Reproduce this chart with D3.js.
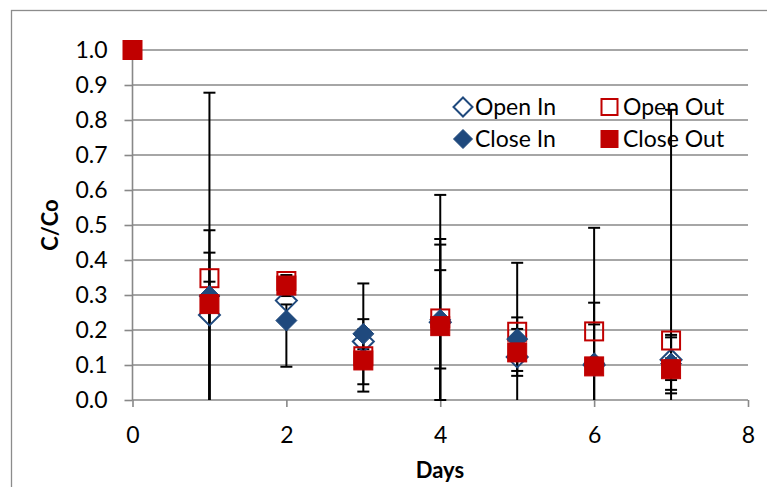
<!DOCTYPE html>
<html>
<head>
<meta charset="utf-8">
<script src="https://cdn.jsdelivr.net/npm/d3@7"></script>
<style>
  html, body { margin: 0; padding: 0; background: #fff; }
  svg { display: block; font-family: Lato, "Open Sans", sans-serif; }
</style>
</head>
<body>
<svg id="chart" width="767" height="487"></svg>
<script>
// ---- data ----
const days = [0, 1, 2, 3, 4, 5, 6, 7];
const seriesNames = ["Open In", "Open Out", "Close In", "Close Out"];

const openIn   = [null, 0.243, 0.284, 0.167, 0.222, 0.123, 0.100, 0.115];
const openOut  = [null, 0.348, 0.340, 0.125, 0.233, 0.195, 0.196, 0.170];
const closeIn  = [null, 0.297, 0.227, 0.189, 0.229, 0.174, 0.105, 0.104];
const closeOut = [1.0,  0.274, 0.327, 0.113, 0.211, 0.136, 0.096, 0.088];

const openInErrPlus   = [0, 0.242, 0,     0.064, 0.222, 0.040, 0.116, 0.071];
const openInErrMinus  = [0, 0.300, 0,     0.064, 0.222, 0.040, 0.116, 0.096];
const openOutErrPlus  = [0, 0.530, 0,     0.020, 0.353, 0.197, 0.296, 0.659];
const openOutErrMinus = [0, 0.530, 0,     0.020, 0.353, 0.197, 0.296, 0.659];
const closeInErrPlus  = [0, 0.124, 0.046, 0.144, 0.231, 0.062, 0.173, 0.075];
const closeInErrMinus = [0, 0.350, 0.132, 0.144, 0.231, 0.062, 0.173, 0.075];
const closeOutErrPlus = [0, 0.064, 0.030, 0.089, 0.160, 0.067, 0.020, 0.031];
const closeOutErrMinus= [0, 0.300, 0.030, 0.089, 0.121, 0.067, 0.020, 0.031];

const xTicks = [0, 2, 4, 6, 8];
const yTicks = [0, 0.1, 0.2, 0.3, 0.4, 0.5, 0.6, 0.7, 0.8, 0.9, 1.0];

// ---- setup ----
const BLUE = "#1F497D", RED = "#C00000", GRID = "#888888";
const svg = d3.select("#chart");
const x = d3.scaleLinear().domain([0, 8]).range([132.5, 748]);
const y = d3.scaleLinear().domain([0, 1]).range([400, 50]);

// outer chart border
svg.append("rect").attr("x", 11.5).attr("y", 10.5).attr("width", 800).attr("height", 600)
  .attr("fill", "none").attr("stroke", "#8c8c8c").attr("stroke-width", 1.3);

// gridlines
svg.append("g").selectAll("line").data(yTicks.filter(d => d > 0)).join("line")
  .attr("x1", x(0)).attr("x2", x(8))
  .attr("y1", d => y(d)).attr("y2", d => y(d))
  .attr("stroke", GRID).attr("stroke-width", 1.6);

// axes
const yAxis = svg.append("g").attr("transform", `translate(${x(0)},0)`)
  .call(d3.axisLeft(y).tickValues(yTicks).tickFormat(d3.format(".1f")).tickSize(8).tickPadding(17));
const xAxis = svg.append("g").attr("transform", `translate(0,${y(0)})`)
  .call(d3.axisBottom(x).tickValues(xTicks).tickFormat(d3.format("d")).tickSize(7).tickPadding(20));
[yAxis, xAxis].forEach(g => {
  g.select(".domain").attr("stroke", GRID).attr("stroke-width", 1.6);
  g.selectAll(".tick line").attr("stroke", GRID).attr("stroke-width", 1.6);
  g.selectAll(".tick text").attr("fill", "#000").style("font-size", "23px").style("font-family", "Lato, 'Open Sans', sans-serif");
});
yAxis.select(".domain").attr("d", `M0,${y(0)}V${y(1)}`);
xAxis.select(".domain").attr("d", `M${x(0)},0H${x(8)}`);

// axis titles
svg.append("text").attr("x", 440).attr("y", 478).attr("text-anchor", "middle")
  .style("font-size", "22px").style("font-weight", "bold").text("Days");
svg.append("text").attr("transform", "translate(58,225) rotate(-90)").attr("text-anchor", "middle")
  .style("font-size", "22px").style("font-weight", "bold").text("C/Co");

// series
const series = [
  { name: seriesNames[0], vals: openIn,   plus: openInErrPlus,   minus: openInErrMinus,   shape: "diamond", filled: false, color: BLUE },
  { name: seriesNames[1], vals: openOut,  plus: openOutErrPlus,  minus: openOutErrMinus,  shape: "square",  filled: false, color: RED },
  { name: seriesNames[2], vals: closeIn,  plus: closeInErrPlus,  minus: closeInErrMinus,  shape: "diamond", filled: true,  color: BLUE },
  { name: seriesNames[3], vals: closeOut, plus: closeOutErrPlus, minus: closeOutErrMinus, shape: "square",  filled: true,  color: RED }
];

// error bars (clipped to the plot range, caps only if inside)
const errG = svg.append("g");
series.forEach(s => {
  days.forEach((d, i) => {
    if (s.vals[i] == null) return;
    const p = s.plus[i], m = s.minus[i];
    if (!p && !m) return;
    const hiV = s.vals[i] + p, loV = s.vals[i] - m;
    const hi = Math.min(1, hiV), lo = Math.max(0, loV);
    const cx = x(d);
    errG.append("line").attr("x1", cx).attr("x2", cx).attr("y1", y(lo)).attr("y2", y(hi))
      .attr("stroke", "#000").attr("stroke-width", 2);
    [[hiV, hiV <= 1], [loV, loV >= 0]].forEach(([v, ok]) => {
      if (!ok) return;
      errG.append("line").attr("x1", cx - 6).attr("x2", cx + 6).attr("y1", y(v)).attr("y2", y(v))
        .attr("stroke", "#000").attr("stroke-width", 2);
    });
  });
});

function drawMarker(g, shape, filled, color, cx, cy, size) {
  const h = size / 2;
  if (shape === "diamond") {
    const pts = `${cx},${cy - h} ${cx + h},${cy} ${cx},${cy + h} ${cx - h},${cy}`;
    g.append("polygon").attr("points", pts)
      .attr("fill", filled ? color : "none").attr("stroke", color).attr("stroke-width", filled ? 1 : 2);
  } else {
    const hs = h - (filled ? 0.5 : 1);
    g.append("rect").attr("x", cx - hs).attr("y", cy - hs).attr("width", 2 * hs).attr("height", 2 * hs)
      .attr("fill", filled ? color : "none").attr("stroke", color).attr("stroke-width", filled ? 1 : 2);
  }
}

// markers
const mG = svg.append("g");
series.forEach(s => {
  days.forEach((d, i) => {
    if (s.vals[i] == null) return;
    drawMarker(mG, s.shape, s.filled, s.color, x(d), y(s.vals[i]), s.shape === "diamond" ? 21 : 20);
  });
});

// legend
const lg = svg.append("g");
const legendPos = [
  { lx: 463, ly: 107, tx: 475 },
  { lx: 609.5, ly: 107, tx: 623 },
  { lx: 463, ly: 139, tx: 475 },
  { lx: 609.5, ly: 139, tx: 623 }
];
series.forEach((s, i) => {
  const p = legendPos[i];
  drawMarker(lg, s.shape, s.filled, s.color, p.lx, p.ly, s.shape === "diamond" ? 19 : 18);
  lg.append("text").attr("x", p.tx).attr("y", p.ly).attr("dy", "0.36em")
    .style("font-size", "23px").text(s.name);
});
</script>
</body>
</html>
